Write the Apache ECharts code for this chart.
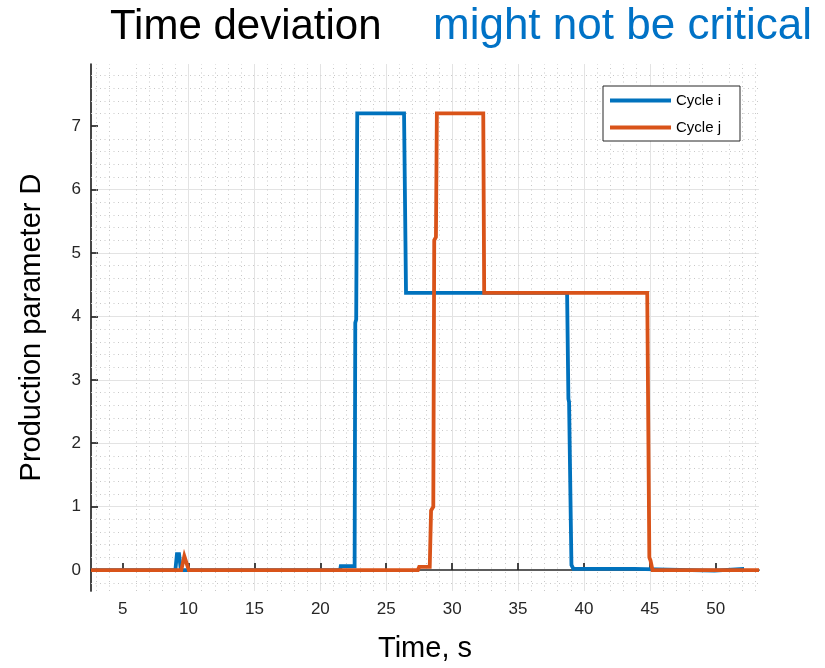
<!DOCTYPE html>
<html>
<head>
<meta charset="utf-8">
<script src="https://cdn.jsdelivr.net/npm/echarts@6/dist/echarts.min.js"></script>
<style>
html,body{margin:0;padding:0;background:#fff;}
#chart{width:825px;height:668px;}
</style>
</head>
<body>
<div id="chart"></div>
<script>
// ---- data ----
const seriesNames = ['Cycle i', 'Cycle j'];
const timeI  = [2.6, 9.0, 9.12, 9.28, 9.42, 9.55, 21.5, 21.55, 22.6, 22.65, 22.72, 22.8, 26.35, 26.5, 38.72, 38.82, 38.87, 39.05, 39.2, 43.8, 43.9, 49.9, 50.0, 52.15];
const valueI = [0, 0, 0.25, 0.25, 0, 0, 0, 0.06, 0.06, 3.9, 3.95, 7.2, 7.2, 4.37, 4.37, 2.7, 2.65, 0.08, 0.02, 0.02, -0.01, -0.01, 0.02, 0.02];
const timeJ  = [2.6, 9.45, 9.68, 9.8, 10.02, 27.4, 27.5, 28.3, 28.4, 28.57, 28.64, 28.77, 28.84, 32.36, 32.43, 44.8, 44.96, 45.05, 45.2, 53.28];
const valueJ = [0, 0, 0.22, 0.22, 0, 0, 0.05, 0.05, 0.94, 1.0, 5.2, 5.25, 7.2, 7.2, 4.37, 4.37, 0.2, 0.15, 0, 0];
const xTicks = [5, 10, 15, 20, 25, 30, 35, 40, 45, 50];
const yTicks = [0, 1, 2, 3, 4, 5, 6, 7];

const pair = (xs, ys) => xs.map((x, i) => [x, ys[i]]);

// minor grid values
const xMinor = [];
for (let v = 3; v <= 53; v++) if (v % 5 !== 0) xMinor.push(v);
const yMinor = [];
for (let k = -1; k <= 39; k++) if (k % 5 !== 0) yMinor.push(+(k * 0.2).toFixed(2));

const FONT = '"Liberation Sans", Arial, Helvetica, sans-serif';
const chart = echarts.init(document.getElementById('chart'), null, {renderer: 'canvas'});

chart.setOption({
  animation: false,
  backgroundColor: '#ffffff',
  title: [
    {text: 'Time deviation', left: 105, top: 1,
     textStyle: {fontSize: 42, fontWeight: 'normal', color: '#000', fontFamily: FONT}},
    {text: 'might not be critical', left: 428, top: 0,
     textStyle: {fontSize: 44, fontWeight: 'normal', color: '#0072C6', fontFamily: FONT}}
  ],
  grid: {left: 91, right: 66, top: 64, bottom: 76, containLabel: false},
  legend: {
    data: seriesNames,
    orient: 'vertical',
    left: 603, top: 86,
    padding: [7, 19, 6, 7],
    itemGap: 12,
    itemWidth: 61, itemHeight: 4,
    icon: 'rect',
    backgroundColor: '#fff',
    borderColor: '#262626', borderWidth: 1,
    z: 10,
    textStyle: {fontSize: 15, color: '#000', fontFamily: FONT}
  },
  xAxis: {
    type: 'value', min: 2.6, max: 53.28, splitNumber: 10,
    name: 'Time, s', nameLocation: 'middle', nameGap: 43,
    nameTextStyle: {fontSize: 29, color: '#000', fontFamily: FONT},
    axisLine: {lineStyle: {color: '#262626', width: 1.7}},
    axisTick: {inside: true, length: 7, customValues: xTicks, lineStyle: {color: '#262626', width: 1.7}},
    axisLabel: {customValues: xTicks, fontSize: 17, color: '#262626', margin: 10, fontFamily: FONT},
    splitLine: {show: true, showMinLine: false, showMaxLine: false, lineStyle: {color: '#e3e3e3', width: 1}}
  },
  yAxis: {
    type: 'value', min: -0.33, max: 7.98, splitNumber: 8,
    name: 'Production parameter D', nameLocation: 'middle', nameGap: 45,
    nameTextStyle: {fontSize: 29, color: '#000', fontFamily: FONT},
    axisLine: {lineStyle: {color: '#262626', width: 1.7}},
    axisTick: {inside: true, length: 7, customValues: yTicks, lineStyle: {color: '#262626', width: 1.7}},
    axisLabel: {customValues: yTicks, fontSize: 17, color: '#262626', margin: 10, fontFamily: FONT},
    splitLine: {show: true, showMinLine: false, showMaxLine: false, lineStyle: {color: '#e3e3e3', width: 1}}
  },
  series: [
    {
      name: 'minor-grid', type: 'line', data: [[2.6, 0]], symbol: 'none', silent: true, z: 1,
      lineStyle: {opacity: 0},
      markLine: {
        silent: true, symbol: ['none', 'none'], animation: false, z: 1,
        label: {show: false},
        lineStyle: {color: '#c8c8c8', width: 1, type: [1, 3.5]},
        data: xMinor.map(v => ({xAxis: v})).concat(yMinor.map(v => ({yAxis: v})))
      }
    },
    {
      name: seriesNames[0], type: 'line', data: pair(timeI, valueI), symbol: 'none', z: 3,
      color: '#0072BD', lineStyle: {width: 3.8, color: '#0072BD', join: 'miter'}
    },
    {
      name: seriesNames[1], type: 'line', data: pair(timeJ, valueJ), symbol: 'none', z: 4,
      color: '#D95319', lineStyle: {width: 3.8, color: '#D95319', join: 'miter'}
    }
  ]
});
</script>
</body>
</html>
